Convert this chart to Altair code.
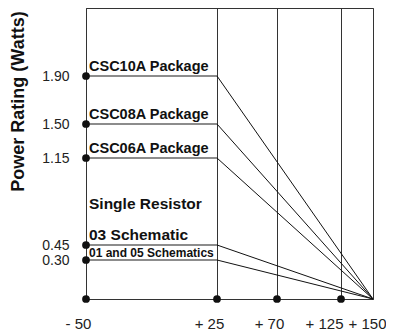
import altair as alt
import pandas as pd

# ---- data ----
temps = [-50, 25, 70, 125, 150]            # x tick values (deg C)
temp_range = [0, 131, 191, 255, 287]       # piecewise scale range (layout)
power_domain = [0.0, 0.30, 0.45, 1.15, 1.50, 1.90, 2.50]
power_range = [291, 252, 237, 150, 116, 68, 0]
power_ticks = [0.30, 0.45, 1.15, 1.50, 1.90]

package_names = ["CSC10A Package", "CSC08A Package", "CSC06A Package"]
package_power = [1.90, 1.50, 1.15]
schem_big_names = ["03 Schematic"]
schem_big_power = [0.45]
schem_small_names = ["01 and 05 Schematics"]
schem_small_power = [0.30]
group_names = ["Single Resistor"]
group_power = [0.70]

t_min, t_knee, t_max = -50, 25, 150

all_power = package_power + schem_big_power + schem_small_power

seg = pd.DataFrame({
    "x": [t_min] * len(all_power),
    "x2": [t_knee] * len(all_power),
    "y": all_power,
})
diag = pd.DataFrame({
    "x": [t_knee] * len(all_power),
    "x2": [t_max] * len(all_power),
    "y": all_power,
    "y2": [0.0] * len(all_power),
})
dots = pd.DataFrame({
    "x": [t_min] * len(all_power) + temps[:-1],
    "y": all_power + [0.0] * (len(temps) - 1),
})

xscale = alt.Scale(domain=temps, range=temp_range, nice=False, zero=False)
yscale = alt.Scale(domain=power_domain, range=power_range, nice=False, zero=False)

xaxis = alt.Axis(
    values=temps, title=None, grid=True, gridColor="#333", gridWidth=1,
    domainColor="#333", ticks=False, labelFontSize=15, labelColor="#222",
    labelPadding=17, labelFlush=False, labelOverlap=False,
    labelExpr="datum.value < 0 ? '- ' + abs(datum.value) : '+ ' + datum.value",
    labelOffset={"condition": [{"test": "datum.value == 125", "value": -17},
                               {"test": "datum.value == 150", "value": -6}],
                 "value": -8},
)
yaxis = alt.Axis(
    values=power_ticks, format=".2f", title="Power Rating (Watts)", grid=False,
    domainColor="#333", ticks=False, labelFontSize=14, labelColor="#222",
    labelPadding=17, labelFlush=False, labelOverlap=False,
    titleFontSize=18, titleFontWeight="bold", titleColor="#111",
    titleX=-68, titleY=93, titleAlign="center", titleBaseline="middle",
)

X = alt.X("x:Q", scale=xscale, axis=xaxis)
Y = alt.Y("y:Q", scale=yscale, axis=yaxis)

horiz = alt.Chart(seg).mark_rule(color="#666", strokeWidth=1.4).encode(
    x=X, x2="x2:Q", y=Y)
slant = alt.Chart(diag).mark_rule(color="#111", strokeWidth=1).encode(
    x=X, x2="x2:Q", y=Y, y2="y2:Q")
pts = alt.Chart(dots).mark_circle(color="#111", size=60, opacity=1).encode(x=X, y=Y)


def labels(names, powers, size, dy):
    df = pd.DataFrame({"x": [t_min] * len(names), "y": powers, "t": names})
    return alt.Chart(df).mark_text(
        align="left", baseline="alphabetic", dx=3, dy=dy, fontSize=size,
        fontWeight="bold", color="#111"
    ).encode(x=X, y=Y, text="t:N")


chart = alt.layer(
    horiz, slant, pts,
    labels(package_names, package_power, 14.5, -5),
    labels(schem_big_names, schem_big_power, 15.5, -5),
    labels(group_names, group_power, 15.5, -5),
    labels(schem_small_names, schem_small_power, 12, -3),
).properties(
    width=287, height=291,
    autosize=alt.AutoSizeParams(type="none"),
    padding={"left": 78, "top": 0, "right": 13, "bottom": 34},
).configure(font="Liberation Sans").configure_view(stroke="#333", strokeWidth=1)

chart.save("out.html", embed_options={"renderer": "svg", "actions": False})
